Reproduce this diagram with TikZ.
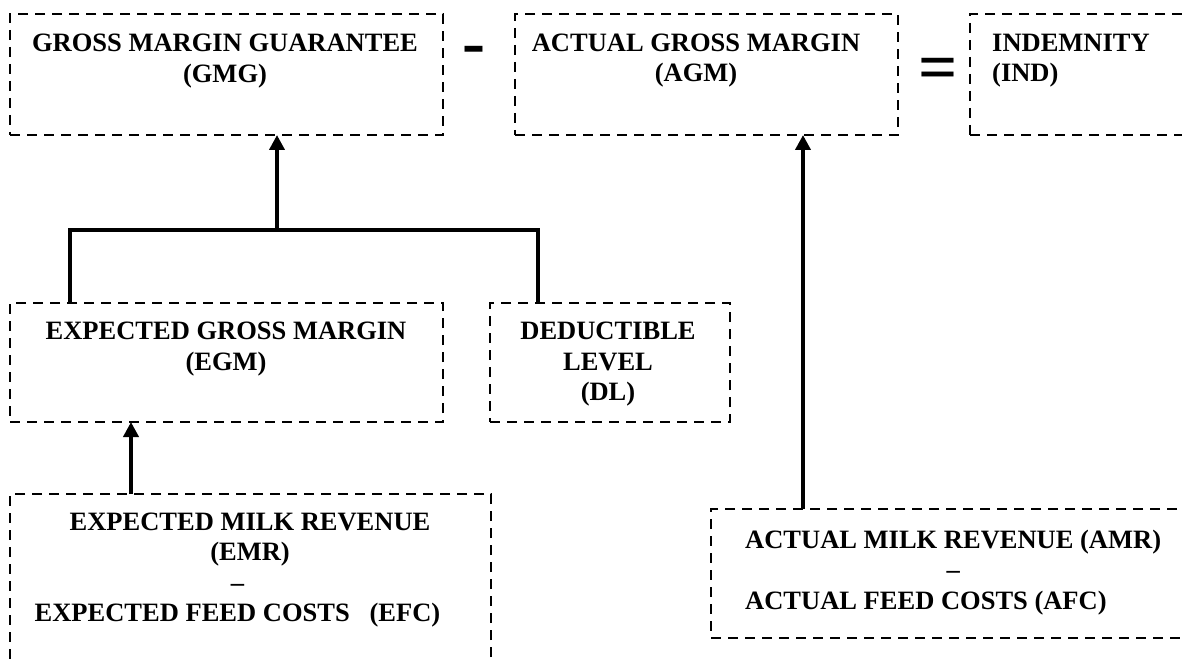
\documentclass[tikz,border=0pt]{standalone}
\usepackage{fontspec}
\setmainfont{Liberation Serif}
\usetikzlibrary{arrows.meta}
\begin{document}
\begin{tikzpicture}[x=1pt,y=-1pt,
  dbox/.style={draw, line width=2.4pt, dash pattern=on 10pt off 7pt, inner sep=0pt, outer sep=0pt, rectangle},
  lbl/.style={inner sep=0pt, anchor=base, font=\fontsize{26.5}{30.5}\selectfont\bfseries},
  lblw/.style={lbl, anchor=base west},
  conn/.style={line width=4.5pt},
  arr/.style={line width=4.5pt, -{Triangle[length=15pt,width=15pt]}},
  op/.style={inner sep=0pt, anchor=base, font=\fontsize{69}{69}\selectfont\bfseries}]
\useasboundingbox (0,0) rectangle (1182,660);
\clip (0,0) rectangle (1182,660);
% boxes
\node[dbox, minimum width=433pt, minimum height=121pt] (gmg) at (226.5,74.5) {};
\node[dbox, minimum width=383pt, minimum height=121pt] (agm) at (706.5,74.5) {};
\node[dbox, minimum width=292pt, minimum height=121pt] (ind) at (1116,74.5) {};
\node[dbox, minimum width=433pt, minimum height=119pt] (egm) at (226.5,362.5) {};
\node[dbox, minimum width=240pt, minimum height=119pt] (dl) at (610,362.5) {};
\node[dbox, minimum width=481pt, minimum height=226pt] (emr) at (250.5,607) {};
\node[dbox, minimum width=551pt, minimum height=129pt] (amr) at (986.5,573.5) {};
% labels
\node[lbl] (tgmg) at (225,52) {\begin{tabular}[t]{@{}c@{}}GROSS MARGIN GUARANTEE\\(GMG)\end{tabular}};
\node[lbl] (tagm) at (696,51.5) {\begin{tabular}[t]{@{}c@{}}ACTUAL GROSS MARGIN\\(AGM)\end{tabular}};
\node[lblw] (tind) at (992,51.5) {\begin{tabular}[t]{@{}l@{}}INDEMNITY\\(IND)\end{tabular}};
\node[lbl] (tegm) at (226,339.5) {\begin{tabular}[t]{@{}c@{}}EXPECTED GROSS MARGIN\\(EGM)\end{tabular}};
\node[lbl] (tdl) at (608,339.5) {\begin{tabular}[t]{@{}c@{}}DEDUCTIBLE\\LEVEL\\(DL)\end{tabular}};
\node[lbl] (temr) at (237.5,530) {\begin{tabular}[t]{@{}c@{}}\hspace*{25pt}EXPECTED MILK REVENUE\\\hspace*{25pt}(EMR)\\–\\EXPECTED FEED COSTS\ \ \ (EFC)\end{tabular}};
\node[lblw] (tamr) at (745,548) {\begin{tabular}[t]{@{}l@{}}ACTUAL MILK REVENUE (AMR)\\\multicolumn{1}{@{}c@{}}{–}\\ACTUAL FEED COSTS (AFC)\end{tabular}};
% operators
\node[op] (minus) at (473.5,66) {-};
\node[op] (equals) at (938,91) {=};
% connectors
\coordinate (jn) at (277,230);
\coordinate (jl) at (70,230);
\coordinate (jr) at (538,230);
\draw[arr] (jn) -- (gmg.south -| jn);
\draw[conn] (egm.north -| jl) -- (jl) -- (jr) -- (dl.north -| jr);
\coordinate (xe) at (131,0);
\draw[arr] (emr.north -| xe) -- (egm.south -| xe);
\coordinate (xa) at (803,0);
\draw[arr] (amr.north -| xa) -- (agm.south -| xa);
\end{tikzpicture}
\end{document}
